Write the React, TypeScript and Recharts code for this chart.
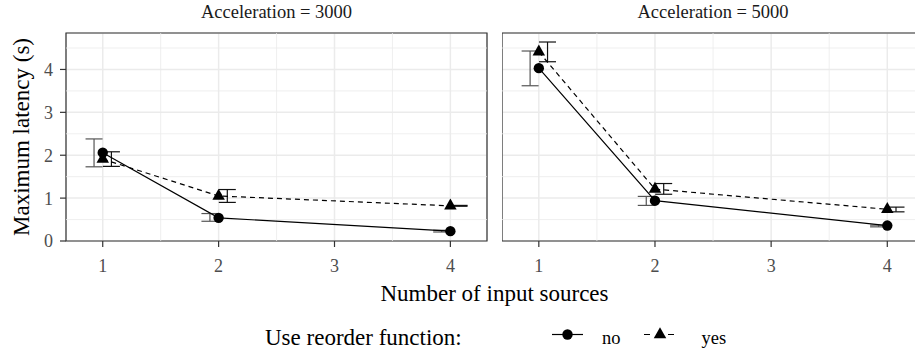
import React from 'react';
import {
  ComposedChart,
  Line,
  Scatter,
  ErrorBar,
  XAxis,
  YAxis,
  CartesianGrid,
  ReferenceLine,
  ReferenceArea,
} from 'recharts';

// x positions (number of input sources) and axis ticks
const sources = [1, 2, 4];
const xTicks = [1, 2, 3, 4];
const xMinor = [1.5, 2.5, 3.5];
const yTicks = [0, 1, 2, 3, 4];
const yMinor = [0.5, 1.5, 2.5, 3.5, 4.5];
const panelTitles = ['Acceleration = 3000', 'Acceleration = 5000'];
const legendLabels = ['no', 'yes'];

// Acceleration = 3000
const no3000 = [2.06, 0.54, 0.23];
const noLow3000 = [1.73, 0.46, 0.21];
const noHigh3000 = [2.38, 0.64, 0.25];
const yes3000 = [1.91, 1.05, 0.82];
const yesLow3000 = [1.74, 0.9, 0.81];
const yesHigh3000 = [2.08, 1.2, 0.83];

// Acceleration = 5000
const no5000 = [4.03, 0.94, 0.36];
const noLow5000 = [3.62, 0.83, 0.33];
const noHigh5000 = [4.43, 1.04, 0.37];
const yes5000 = [4.41, 1.21, 0.74];
const yesLow5000 = [4.18, 1.09, 0.68];
const yesHigh5000 = [4.64, 1.34, 0.79];

const X_DOMAIN: [number, number] = [0.683, 4.316];
const Y_DOMAIN: [number, number] = [0, 4.85];
const DODGE = 0.075;
const FONT = '"Liberation Serif", "Times New Roman", serif';

const points = (means: number[]) => sources.map((s, i) => ({ x: s, y: means[i] }));

const bars = (means: number[], lo: number[], hi: number[], shift: number) =>
  sources.map((s, i) => ({
    x: s + shift,
    y: means[i],
    err: [means[i] - lo[i], hi[i] - means[i]],
  }));

const Triangle = (props: any) => {
  const { cx, cy, index } = props;
  if (cx == null || cy == null) return null;
  const w = 12.5;
  const h = 11;
  return (
    <path
      key={`tri-${index}`}
      d={`M${cx},${cy - (2 * h) / 3} L${cx + w / 2},${cy + h / 3} L${cx - w / 2},${cy + h / 3} Z`}
      fill="#000"
    />
  );
};

const Empty = () => <g />;

function Panel({
  width,
  showY,
  no,
  noLo,
  noHi,
  yes,
  yesLo,
  yesHi,
}: {
  width: number;
  showY: boolean;
  no: number[];
  noLo: number[];
  noHi: number[];
  yes: number[];
  yesLo: number[];
  yesHi: number[];
}) {
  return (
    <ComposedChart width={width} height={290} margin={{ top: 33, right: showY ? 1 : 0, left: 0, bottom: 0 }}>
      <CartesianGrid stroke="#EBEBEB" strokeWidth={1.5} />
      {xMinor.map((v) => (
        <ReferenceLine key={`vx${v}`} x={v} stroke="#EBEBEB" strokeWidth={0.8} />
      ))}
      {yMinor.map((v) => (
        <ReferenceLine key={`hy${v}`} y={v} stroke="#EBEBEB" strokeWidth={0.8} />
      ))}
      <XAxis
        type="number"
        dataKey="x"
        domain={X_DOMAIN}
        ticks={xTicks}
        interval={0}
        allowDataOverflow
        axisLine={false}
        tickLine={{ stroke: '#333333', strokeWidth: 1.2 }}
        tickSize={6}
        tickMargin={12}
        height={49}
        tick={{ fill: '#4D4D4D', fontSize: 18, fontFamily: FONT }}
      />
      <YAxis
        type="number"
        dataKey="y"
        domain={Y_DOMAIN}
        ticks={yTicks}
        interval={0}
        allowDataOverflow
        hide={!showY}
        axisLine={false}
        tickLine={{ stroke: '#333333', strokeWidth: 1.2 }}
        tickSize={6}
        tickMargin={7}
        width={66}
        tick={{ fill: '#4D4D4D', fontSize: 18, fontFamily: FONT }}
      />
      <Scatter data={bars(no, noLo, noHi, -DODGE)} dataKey="y" shape={Empty} isAnimationActive={false}>
        <ErrorBar dataKey="err" direction="y" width={8.5} stroke="#555555" strokeWidth={1.2} isAnimationActive={false} />
      </Scatter>
      <Scatter data={bars(yes, yesLo, yesHi, DODGE)} dataKey="y" shape={Empty} isAnimationActive={false}>
        <ErrorBar dataKey="err" direction="y" width={8.5} stroke="#111111" strokeWidth={1.2} isAnimationActive={false} />
      </Scatter>
      <Line
        data={points(yes)}
        dataKey="y"
        stroke="#000"
        strokeWidth={1.2}
        strokeDasharray="5 4"
        dot={Triangle}
        activeDot={false}
        isAnimationActive={false}
      />
      <Line
        data={points(no)}
        dataKey="y"
        stroke="#000"
        strokeWidth={1.2}
        dot={{ r: 5.2, fill: '#000', stroke: '#000', strokeWidth: 0 }}
        activeDot={false}
        isAnimationActive={false}
      />
      <ReferenceArea
        x1={X_DOMAIN[0]}
        x2={X_DOMAIN[1]}
        y1={Y_DOMAIN[0]}
        y2={Y_DOMAIN[1]}
        fill="none"
        stroke="#333333"
        strokeWidth={1.2}
        ifOverflow="visible"
      />
    </ComposedChart>
  );
}

export default function App() {
  return (
    <div
      style={{
        position: 'absolute',
        left: 0,
        top: 0,
        width: 915,
        height: 351,
        overflow: 'hidden',
        background: '#fff',
        fontFamily: FONT,
      }}
    >
      <svg width={915} height={351} style={{ position: 'absolute', left: 0, top: 0 }}>
        <text x={276.5} y={18.3} textAnchor="middle" fontSize={18.5} fill="#1A1A1A" fontFamily={FONT}>
          {panelTitles[0]}
        </text>
        <text x={713} y={18.3} textAnchor="middle" fontSize={18.5} fill="#1A1A1A" fontFamily={FONT}>
          {panelTitles[1]}
        </text>
        <text
          transform="translate(28.5,137) rotate(-90)"
          textAnchor="middle"
          fontSize={23}
          fill="#000"
          fontFamily={FONT}
        >
          Maximum latency (s)
        </text>
        <text x={494.5} y={300.5} textAnchor="middle" fontSize={23} fill="#000" fontFamily={FONT}>
          Number of input sources
        </text>
        {/* legend */}
        <text x={265} y={344.5} fontSize={23} fill="#000" fontFamily={FONT}>
          Use reorder function:
        </text>
        <line x1={552} x2={583} y1={334.5} y2={334.5} stroke="#000" strokeWidth={1.2} />
        <circle cx={567.5} cy={334.5} r={5.2} fill="#000" />
        <text x={602} y={343.5} fontSize={18.5} fill="#000" fontFamily={FONT}>
          {legendLabels[0]}
        </text>
        <line x1={644} x2={676} y1={334.5} y2={334.5} stroke="#000" strokeWidth={1.2} strokeDasharray="6 6" />
        <path d="M660,327.2 L666.25,338.2 L653.75,338.2 Z" fill="#000" />
        <text x={701.5} y={343.5} fontSize={18.5} fill="#000" fontFamily={FONT}>
          {legendLabels[1]}
        </text>
      </svg>
      <div style={{ position: 'absolute', left: 0, top: 0 }}>
        <Panel
          width={488}
          showY
          no={no3000}
          noLo={noLow3000}
          noHi={noHigh3000}
          yes={yes3000}
          yesLo={yesLow3000}
          yesHi={yesHigh3000}
        />
      </div>
      <div style={{ position: 'absolute', left: 502, top: 0 }}>
        <Panel
          width={422}
          showY={false}
          no={no5000}
          noLo={noLow5000}
          noHi={noHigh5000}
          yes={yes5000}
          yesLo={yesLow5000}
          yesHi={yesHigh5000}
        />
      </div>
    </div>
  );
}
